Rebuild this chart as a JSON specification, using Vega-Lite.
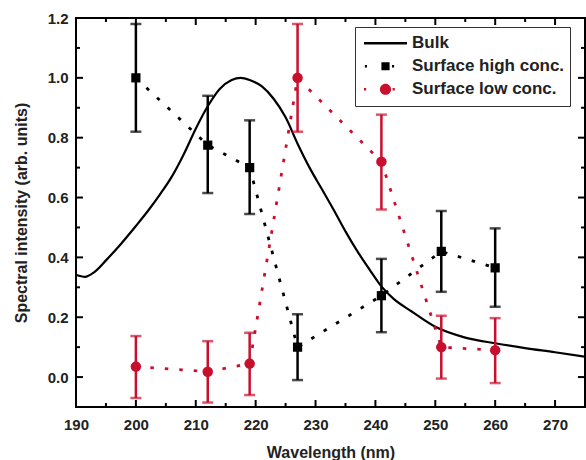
{
  "$schema": "https://vega.github.io/schema/vega-lite/v6.json",
  "width": 509,
  "height": 389,
  "autosize": {"type": "none"},
  "padding": {"left": 76, "top": 18, "right": 1, "bottom": 53},
  "background": "white",
  "datasets": {
    "bulk": [
      {"w": 190, "v": 0.342}, {"w": 191.5, "v": 0.335}, {"w": 193, "v": 0.35}, {"w": 195, "v": 0.39},
      {"w": 197.5, "v": 0.445}, {"w": 200, "v": 0.505}, {"w": 202, "v": 0.555}, {"w": 204, "v": 0.61},
      {"w": 206, "v": 0.67}, {"w": 208, "v": 0.745}, {"w": 210, "v": 0.83}, {"w": 212, "v": 0.905},
      {"w": 214, "v": 0.963}, {"w": 216, "v": 0.993}, {"w": 217.5, "v": 1.0}, {"w": 219, "v": 0.993},
      {"w": 221, "v": 0.972}, {"w": 223, "v": 0.93}, {"w": 225, "v": 0.868}, {"w": 227, "v": 0.78},
      {"w": 229, "v": 0.7}, {"w": 231, "v": 0.63}, {"w": 233, "v": 0.56}, {"w": 235, "v": 0.487},
      {"w": 237, "v": 0.42}, {"w": 239, "v": 0.36}, {"w": 241, "v": 0.303}, {"w": 243, "v": 0.262},
      {"w": 246, "v": 0.22}, {"w": 250, "v": 0.168}, {"w": 255, "v": 0.132}, {"w": 260, "v": 0.113},
      {"w": 265, "v": 0.097}, {"w": 270, "v": 0.083}, {"w": 275, "v": 0.068}
    ],
    "pts": [
      {"series": "Surface high conc.", "w": 200, "v": 1.0, "lo": 0.82, "hi": 1.18},
      {"series": "Surface high conc.", "w": 212, "v": 0.775, "lo": 0.615, "hi": 0.94},
      {"series": "Surface high conc.", "w": 219, "v": 0.70, "lo": 0.545, "hi": 0.858},
      {"series": "Surface high conc.", "w": 227, "v": 0.10, "lo": -0.01, "hi": 0.21},
      {"series": "Surface high conc.", "w": 241, "v": 0.272, "lo": 0.15, "hi": 0.395},
      {"series": "Surface high conc.", "w": 251, "v": 0.42, "lo": 0.285, "hi": 0.555},
      {"series": "Surface high conc.", "w": 260, "v": 0.365, "lo": 0.235, "hi": 0.497},
      {"series": "Surface low conc.", "w": 200, "v": 0.035, "lo": -0.07, "hi": 0.137},
      {"series": "Surface low conc.", "w": 212, "v": 0.018, "lo": -0.085, "hi": 0.12},
      {"series": "Surface low conc.", "w": 219, "v": 0.045, "lo": -0.06, "hi": 0.148},
      {"series": "Surface low conc.", "w": 227, "v": 1.0, "lo": 0.82, "hi": 1.18},
      {"series": "Surface low conc.", "w": 241, "v": 0.72, "lo": 0.56, "hi": 0.877},
      {"series": "Surface low conc.", "w": 251, "v": 0.10, "lo": -0.005, "hi": 0.205},
      {"series": "Surface low conc.", "w": 260, "v": 0.09, "lo": -0.02, "hi": 0.197}
    ],
    "xmajor": [{"t": 200}, {"t": 210}, {"t": 220}, {"t": 230}, {"t": 240}, {"t": 250}, {"t": 260}, {"t": 270}],
    "xminor": [{"t": 195}, {"t": 205}, {"t": 215}, {"t": 225}, {"t": 235}, {"t": 245}, {"t": 255}, {"t": 265}],
    "ymajor": [{"t": 0}, {"t": 0.2}, {"t": 0.4}, {"t": 0.6}, {"t": 0.8}, {"t": 1.0}],
    "yminor": [{"t": 0.1}, {"t": 0.3}, {"t": 0.5}, {"t": 0.7}, {"t": 0.9}, {"t": 1.1}]
  },
  "resolve": {"axis": {"x": "independent", "y": "independent"}},
  "layer": [
    {
      "data": {"name": "bulk"},
      "mark": {"type": "line", "color": "black", "strokeWidth": 2.2, "interpolate": "monotone"},
      "encoding": {
        "x": {"field": "w", "type": "quantitative", "scale": {"domain": [190, 275], "nice": false, "zero": false},
          "axis": {"orient": "bottom", "title": "Wavelength (nm)", "values": [190,200,210,220,230,240,250,260,270],
            "ticks": false, "labelPadding": 10, "labelFlush": false, "titlePadding": 12}},
        "y": {"field": "v", "type": "quantitative", "scale": {"domain": [-0.1, 1.2], "nice": false, "zero": false},
          "axis": {"orient": "left", "title": "Spectral intensity (arb. units)", "format": ".1f",
            "values": [0,0.2,0.4,0.6,0.8,1.0,1.2],
            "ticks": false, "labelPadding": 8, "labelFlush": false, "titlePadding": 18}}
      }
    },
    {
      "data": {"name": "xmajor"},
      "mark": {"type": "rule", "color": "black", "strokeWidth": 2, "y2Offset": -7},
      "encoding": {
        "x": {"field": "t", "type": "quantitative", "axis": null},
        "y": {"datum": -0.1, "type": "quantitative", "axis": null},
        "y2": {"datum": -0.1}
      }
    },
    {
      "data": {"name": "xminor"},
      "mark": {"type": "rule", "color": "black", "strokeWidth": 2, "y2Offset": -4},
      "encoding": {
        "x": {"field": "t", "type": "quantitative", "axis": null},
        "y": {"datum": -0.1, "type": "quantitative", "axis": null},
        "y2": {"datum": -0.1}
      }
    },
    {
      "data": {"name": "xmajor"},
      "mark": {"type": "rule", "color": "black", "strokeWidth": 2, "y2Offset": 7},
      "encoding": {
        "x": {"field": "t", "type": "quantitative", "axis": null},
        "y": {"datum": 1.2, "type": "quantitative", "axis": null},
        "y2": {"datum": 1.2}
      }
    },
    {
      "data": {"name": "xminor"},
      "mark": {"type": "rule", "color": "black", "strokeWidth": 2, "y2Offset": 4},
      "encoding": {
        "x": {"field": "t", "type": "quantitative", "axis": null},
        "y": {"datum": 1.2, "type": "quantitative", "axis": null},
        "y2": {"datum": 1.2}
      }
    },
    {
      "data": {"name": "ymajor"},
      "mark": {"type": "rule", "color": "black", "strokeWidth": 2, "x2Offset": 7},
      "encoding": {
        "y": {"field": "t", "type": "quantitative", "axis": null},
        "x": {"datum": 190, "type": "quantitative", "axis": null},
        "x2": {"datum": 190}
      }
    },
    {
      "data": {"name": "yminor"},
      "mark": {"type": "rule", "color": "black", "strokeWidth": 2, "x2Offset": 4},
      "encoding": {
        "y": {"field": "t", "type": "quantitative", "axis": null},
        "x": {"datum": 190, "type": "quantitative", "axis": null},
        "x2": {"datum": 190}
      }
    },
    {
      "data": {"name": "ymajor"},
      "mark": {"type": "rule", "color": "black", "strokeWidth": 2, "x2Offset": -7},
      "encoding": {
        "y": {"field": "t", "type": "quantitative", "axis": null},
        "x": {"datum": 275, "type": "quantitative", "axis": null},
        "x2": {"datum": 275}
      }
    },
    {
      "data": {"name": "yminor"},
      "mark": {"type": "rule", "color": "black", "strokeWidth": 2, "x2Offset": -4},
      "encoding": {
        "y": {"field": "t", "type": "quantitative", "axis": null},
        "x": {"datum": 275, "type": "quantitative", "axis": null},
        "x2": {"datum": 275}
      }
    },
    {
      "data": {"name": "pts"},
      "mark": {"type": "line", "strokeWidth": 2.8, "strokeDash": [3.5, 11]},
      "encoding": {
        "x": {"field": "w", "type": "quantitative", "axis": null},
        "y": {"field": "v", "type": "quantitative", "axis": null},
        "color": {"field": "series", "type": "nominal", "title": null,
          "scale": {"domain": ["Bulk", "Surface high conc.", "Surface low conc."], "range": ["black", "black", "#c8102e"]}}
      }
    },
    {
      "data": {"name": "pts"},
      "mark": {"type": "rule", "strokeWidth": 2.5},
      "encoding": {
        "x": {"field": "w", "type": "quantitative", "axis": null},
        "y": {"field": "lo", "type": "quantitative", "axis": null},
        "y2": {"field": "hi"},
        "color": {"field": "series", "type": "nominal", "title": null}
      }
    },
    {
      "data": {"name": "pts"},
      "mark": {"type": "tick", "orient": "horizontal", "size": 11, "thickness": 2.5},
      "encoding": {
        "x": {"field": "w", "type": "quantitative", "axis": null},
        "y": {"field": "lo", "type": "quantitative", "axis": null},
        "color": {"field": "series", "type": "nominal", "title": null}
      }
    },
    {
      "data": {"name": "pts"},
      "mark": {"type": "tick", "orient": "horizontal", "size": 11, "thickness": 2.5},
      "encoding": {
        "x": {"field": "w", "type": "quantitative", "axis": null},
        "y": {"field": "hi", "type": "quantitative", "axis": null},
        "color": {"field": "series", "type": "nominal", "title": null}
      }
    },
    {
      "data": {"name": "pts"},
      "transform": [{"filter": "datum.series === 'Surface high conc.'"}],
      "mark": {"type": "point", "shape": "square", "filled": true, "size": 85, "opacity": 1},
      "encoding": {
        "x": {"field": "w", "type": "quantitative", "axis": null},
        "y": {"field": "v", "type": "quantitative", "axis": null},
        "color": {"field": "series", "type": "nominal", "title": null}
      }
    },
    {
      "data": {"name": "pts"},
      "transform": [{"filter": "datum.series === 'Surface low conc.'"}],
      "mark": {"type": "point", "shape": "circle", "filled": true, "size": 110, "opacity": 1},
      "encoding": {
        "x": {"field": "w", "type": "quantitative", "axis": null},
        "y": {"field": "v", "type": "quantitative", "axis": null},
        "color": {"field": "series", "type": "nominal", "title": null}
      }
    },
    {
      "data": {"name": "pts"},
      "mark": {"type": "point", "filled": true, "opacity": 0},
      "encoding": {
        "x": {"field": "w", "type": "quantitative", "axis": null},
        "y": {"field": "v", "type": "quantitative", "axis": null},
        "color": {"field": "series", "type": "nominal", "title": null},
        "shape": {"field": "series", "type": "nominal", "title": null,
          "scale": {"domain": ["Bulk", "Surface high conc.", "Surface low conc."],
            "range": [
              "M-1,-0.055H1V0.055H-1Z",
              "M-0.96,-0.06H-0.86V0.06H-0.96Z M-0.19,-0.19H0.19V0.19H-0.19Z M0.3,-0.06H0.4V0.06H0.3Z",
              "M-1.0,-0.06H-0.9V0.06H-1.0Z M-0.26,0A0.26,0.26 0 1,0 0.26,0A0.26,0.26 0 1,0 -0.26,0Z M0.33,-0.06H0.43V0.06H0.33Z"
            ]}}
      }
    }
  ],
  "config": {
    "view": {"stroke": "black", "strokeWidth": 2},
    "axis": {"labelFont": "Liberation Sans", "labelFontWeight": "bold", "labelFontSize": 15, "labelColor": "#222",
      "titleFont": "Liberation Sans", "titleFontWeight": "bold", "titleFontSize": 16, "titleColor": "#222",
      "grid": false, "domain": false},
    "legend": {"orient": "none", "legendX": 279, "legendY": 9, "strokeColor": "#333", "strokeWidth": 1, "fillColor": "white", "padding": 5,
      "labelFont": "Liberation Sans", "labelFontWeight": "bold", "labelFontSize": 17, "labelColor": "#222",
      "symbolSize": 1849, "symbolOffset": 4, "symbolStrokeWidth": 0, "symbolOpacity": 1, "labelOffset": 5, "clipHeight": 22.5, "rowPadding": 0, "cornerRadius": 0, "zindex": 3}
  }
}
